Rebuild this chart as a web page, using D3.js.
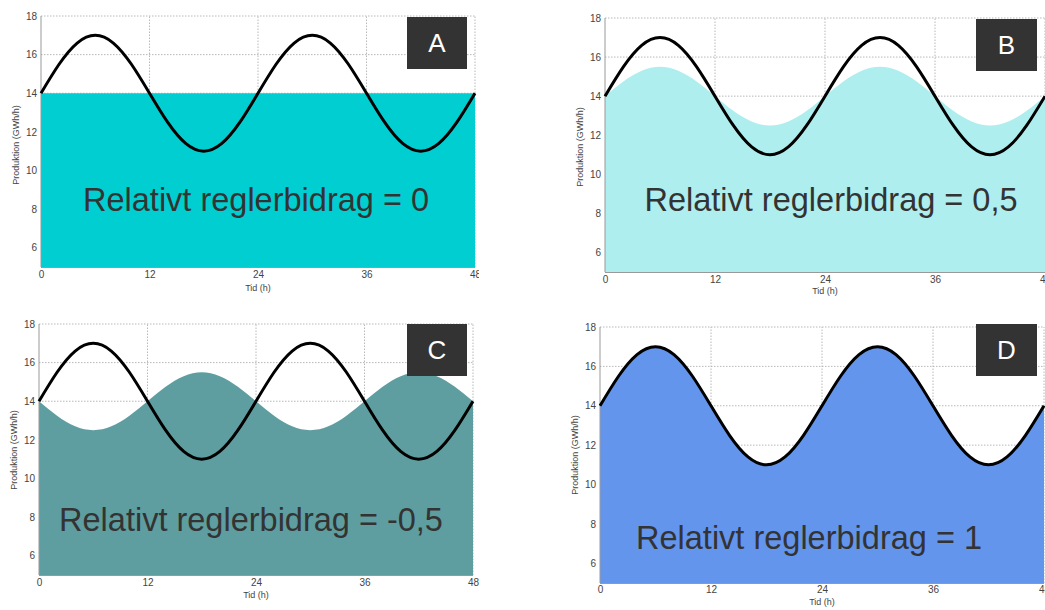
<!DOCTYPE html>
<html>
<head>
<meta charset="utf-8">
<script src="https://cdn.jsdelivr.net/npm/d3@7"></script>
<style>
  html, body { margin: 0; padding: 0; background: #fff; }
  svg { display: block; }
</style>
</head>
<body>
<svg id="chart" width="1045" height="610"></svg>
<script>
// ---- data ----
const hours = [0,2,4,6,8,10,12,14,16,18,20,22,24,26,28,30,32,34,36,38,40,42,44,46,48];
const demand = [14,15.5,16.6,17,16.6,15.5,14,12.5,11.4,11,11.4,12.5,14,15.5,16.6,17,16.6,15.5,14,12.5,11.4,11,11.4,12.5,14];
const prodA = [14,14,14,14,14,14,14,14,14,14,14,14,14,14,14,14,14,14,14,14,14,14,14,14,14];
const prodB = [14,14.75,15.3,15.5,15.3,14.75,14,13.25,12.7,12.5,12.7,13.25,14,14.75,15.3,15.5,15.3,14.75,14,13.25,12.7,12.5,12.7,13.25,14];
const prodC = [14,13.25,12.7,12.5,12.7,13.25,14,14.75,15.3,15.5,15.3,14.75,14,13.25,12.7,12.5,12.7,13.25,14,14.75,15.3,15.5,15.3,14.75,14];
const prodD = demand.slice();
const xTicks = [0,12,24,36,48];
const yTicks = [6,8,10,12,14,16,18];
const panelLetters = ["A","B","C","D"];
const panelTexts = ["Relativt reglerbidrag = 0","Relativt reglerbidrag = 0,5","Relativt reglerbidrag = -0,5","Relativt reglerbidrag = 1"];
const panelFills = ["#00CED1","#AFEEEE","#5F9EA0","#6495ED"];
const panelProd = [prodA, prodB, prodC, prodD];
const yLabel = "Produktion (GWh/h)";
const xLabel = "Tid (h)";

// ---- layout ----
const layout = [
  {x0:41, x1:475, yT:16, yB:267, clipR:479, box:[407,17,467,69], text:[256,200], yl:[16,145], tickY:277, xlY:291},
  {x0:605, x1:1045, yT:18, yB:272, clipR:1045, box:[976,19,1037,71], text:[831,200], yl:[580,147], tickY:282, xlY:294},
  {x0:39, x1:473, yT:324, yB:575, clipR:480, box:[407,324,467,376], text:[251,520], yl:[14,450], tickY:585, xlY:598},
  {x0:600, x1:1044, yT:327, yB:583, clipR:1045, box:[976,324,1037,376], text:[809,538], yl:[575,455], tickY:592, xlY:605}
];

const svg = d3.select("#chart");
const defs = svg.append("defs");

layout.forEach((L, i) => {
  const x = d3.scaleLinear().domain([0,48]).range([L.x0, L.x1]);
  const y = d3.scaleLinear().domain([5,18]).range([L.yB, L.yT]);
  defs.append("clipPath").attr("id","clip"+i)
    .append("rect").attr("x",0).attr("y",0).attr("width",L.clipR).attr("height",610);
  const g = svg.append("g").attr("clip-path","url(#clip"+i+")");

  // grid
  g.selectAll(".gx").data(xTicks.slice(1)).join("line")
    .attr("x1", d=>x(d)).attr("x2", d=>x(d)).attr("y1", y(5)).attr("y2", y(18))
    .attr("stroke","#b8b8b8").attr("stroke-width",1).attr("stroke-dasharray","1.5,1.5");
  g.selectAll(".gy").data(yTicks).join("line")
    .attr("x1", x(0)).attr("x2", x(48)).attr("y1", d=>y(d)).attr("y2", d=>y(d))
    .attr("stroke","#b8b8b8").attr("stroke-width",1).attr("stroke-dasharray","1.5,1.5");

  // area
  const area = d3.area().x((d,j)=>x(hours[j])).y0(y(5)).y1(d=>y(d)).curve(d3.curveNatural);
  g.append("path").datum(panelProd[i]).attr("d", area).attr("fill", panelFills[i]);

  // axes lines
  g.append("line").attr("x1",x(0)).attr("x2",x(0)).attr("y1",y(5)).attr("y2",y(18))
    .attr("stroke","#999").attr("stroke-width",1);
  g.append("line").attr("x1",x(0)).attr("x2",x(48)).attr("y1",y(5)+0.5).attr("y2",y(5)+0.5)
    .attr("stroke","#999").attr("stroke-width",1.2);

  // demand line
  const line = d3.line().x((d,j)=>x(hours[j])).y(d=>y(d)).curve(d3.curveNatural);
  g.append("path").datum(demand).attr("d", line).attr("fill","none")
    .attr("stroke","#000").attr("stroke-width",3);

  // y axis
  const ya = g.append("g").attr("transform","translate("+x(0)+",0)")
    .call(d3.axisLeft(y).tickValues(yTicks).tickSize(0).tickPadding(4));
  ya.select(".domain").remove();
  ya.selectAll("text").attr("font-family","Liberation Sans, Arial, sans-serif")
    .attr("font-size","10px").attr("fill","#444");

  // x axis
  const xa = g.append("g").attr("transform","translate(0,"+(L.tickY-6)+")")
    .call(d3.axisBottom(x).tickValues(xTicks).tickSize(0).tickPadding(0));
  xa.select(".domain").remove();
  xa.selectAll("text").attr("font-family","Liberation Sans, Arial, sans-serif")
    .attr("font-size","10px").attr("fill","#444");

  g.append("text").attr("x", x(24)).attr("y", L.xlY).attr("text-anchor","middle")
    .attr("font-family","Liberation Sans, Arial, sans-serif").attr("font-size","9px").attr("fill","#444")
    .text(xLabel);
  g.append("text").attr("transform","translate("+L.yl[0]+","+L.yl[1]+") rotate(-90)")
    .attr("text-anchor","middle").attr("dy","0.35em")
    .attr("font-family","Liberation Sans, Arial, sans-serif").attr("font-size","9px").attr("fill","#444")
    .text(yLabel);

  // big text
  g.append("text").attr("x", L.text[0]).attr("y", L.text[1]).attr("text-anchor","middle")
    .attr("dy","0.35em")
    .attr("font-family","Liberation Sans, Arial, sans-serif").attr("font-size","32.5px").attr("fill","#333")
    .text(panelTexts[i]);

  // letter box
  const b = L.box;
  svg.append("rect").attr("x",b[0]).attr("y",b[1]).attr("width",b[2]-b[0]).attr("height",b[3]-b[1])
    .attr("fill","#333");
  svg.append("text").attr("x",(b[0]+b[2])/2).attr("y",(b[1]+b[3])/2).attr("text-anchor","middle")
    .attr("dy","0.36em").attr("font-family","Liberation Sans, Arial, sans-serif").attr("font-size","26px")
    .attr("fill","#fff").text(panelLetters[i]);
});
</script>
</body>
</html>
